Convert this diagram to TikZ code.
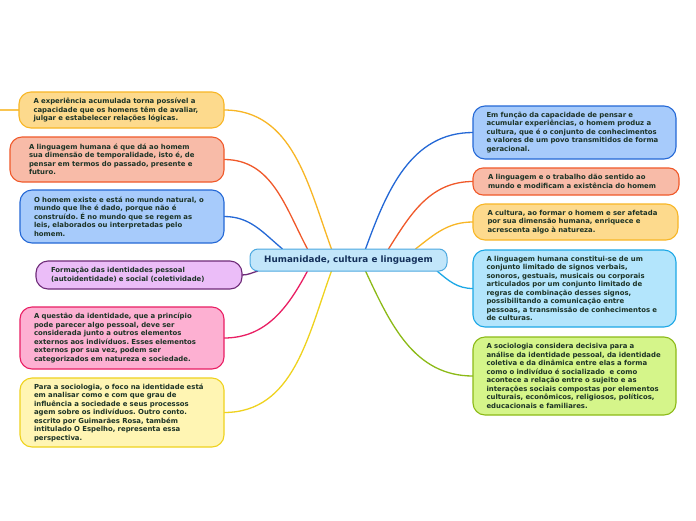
\documentclass[tikz,border=0pt]{standalone}
\usepackage{fontspec}
\setmainfont{DejaVu Sans}
\frenchspacing
\usetikzlibrary{positioning,backgrounds}

\definecolor{inktext}{HTML}{1C3326}
\definecolor{inkhub}{HTML}{14305A}
\definecolor{hubfill}{HTML}{C2E6FA}
\definecolor{hubline}{HTML}{4DA9E0}
\definecolor{orafill}{HTML}{FDDA8D}
\definecolor{oraline}{HTML}{F8B625}
\definecolor{salfill}{HTML}{F8BBA8}
\definecolor{salline}{HTML}{F0592A}
\definecolor{blufill}{HTML}{A7CBFB}
\definecolor{bluline}{HTML}{2468D6}
\definecolor{purfill}{HTML}{EBBDF8}
\definecolor{purline}{HTML}{6E2A78}
\definecolor{pinfill}{HTML}{FDB0D2}
\definecolor{pinline}{HTML}{E91E63}
\definecolor{yelfill}{HTML}{FFF5B3}
\definecolor{yelline}{HTML}{EFD21E}
\definecolor{skyfill}{HTML}{B3E5FC}
\definecolor{skyline}{HTML}{1DA8E6}
\definecolor{grnfill}{HTML}{D5F58A}
\definecolor{grnline}{HTML}{8CBA17}

\begin{document}
\begin{tikzpicture}[
        x=1pt, y=-1pt,
        hub/.style={rectangle, rounded corners=8pt, minimum width=197pt, minimum height=22pt, outer sep=0pt, draw=hubline, fill=hubfill, line width=1pt, text=inkhub, font=\fontsize{8.8}{10}\selectfont\bfseries},
        idea/.style={rectangle, rounded corners=12pt, inner xsep=0pt, inner ysep=2pt, outer sep=0pt, text width=176pt, align=left, line width=1.1pt, text=inktext, font=\fontsize{6.9}{8.5}\selectfont\bfseries},
        orabox/.style={idea, fill=orafill, draw=oraline},
        salbox/.style={idea, fill=salfill, draw=salline},
        blubox/.style={idea, fill=blufill, draw=bluline},
        purbox/.style={idea, fill=purfill, draw=purline},
        pinbox/.style={idea, fill=pinfill, draw=pinline},
        yelbox/.style={idea, fill=yelfill, draw=yelline},
        skybox/.style={idea, fill=skyfill, draw=skyline},
        grnbox/.style={idea, fill=grnfill, draw=grnline},
        link/.style={line width=1.3pt}
    ]
        \useasboundingbox (0,0) rectangle (696,520);

        \node (hub) [hub] at (348.5,260) {Humanidade, cultura e linguagem};

        % left side
        \node (l1) [orabox, minimum width=205pt, minimum height=36pt, anchor=north east] at (224,92) {A experiência acumulada torna possível a\\capacidade que os homens têm de avaliar,\\julgar e estabelecer relações lógicas.};
        \node (l2) [salbox, minimum width=214pt, minimum height=45pt, below=9pt of l1.south east, anchor=north east] {A linguagem humana é que dá ao homem\\sua dimensão de temporalidade, isto é, de\\pensar em termos do passado, presente e\\futuro.};
        \node (l3) [blubox, minimum width=204pt, minimum height=53pt, below=8pt of l2.south east, anchor=north east] {O homem existe e está no mundo natural, o\\mundo que lhe é dado, porque não é\\construído. É no mundo que se regem as\\leis, elaborados ou interpretadas pelo\\homem.};
        \node (l4) [purbox, minimum width=206pt, minimum height=28pt, below=18pt of l3.south east, anchor=north east, xshift=18pt] {Formação das identidades pessoal\\(autoidentidade) e social (coletividade)};
        \node (l5) [pinbox, minimum width=204pt, minimum height=62pt, below=18pt of l4.south east, anchor=north east, xshift=-18pt] {A questão da identidade, que a princípio\\pode parecer algo pessoal, deve ser\\considerada junto a outros elementos\\externos aos indivíduos. Esses elementos\\externos por sua vez, podem ser\\categorizados em natureza e sociedade.};
        \node (l6) [yelbox, minimum width=204pt, minimum height=69pt, below=9pt of l5.south east, anchor=north east] {Para a sociologia, o foco na identidade está\\em analisar como e com que grau de\\influência a sociedade e seus processos\\agem sobre os indivíduos. Outro conto.\\escrito por Guimarães Rosa, também\\intitulado O Espelho, representa essa\\perspectiva.};

        % right side
        \node (r1) [blubox, minimum width=203pt, minimum height=53pt, anchor=north west] at (473,106) {Em função da capacidade de pensar e\\acumular experiências, o homem produz a\\cultura, que é o conjunto de conhecimentos\\e valores de um povo transmitidos de forma\\geracional.};
        \node (r2) [salbox, rounded corners=10pt, minimum width=206pt, minimum height=27pt, below=9pt of r1.south west, anchor=north west] {A linguagem e o trabalho dão sentido ao\\mundo e modificam a existência do homem};
        \node (r3) [orabox, minimum width=205pt, minimum height=36pt, below=9pt of r2.south west, anchor=north west] {A cultura, ao formar o homem e ser afetada\\por sua dimensão humana, enriquece e\\acrescenta algo à natureza.};
        \node (r4) [skybox, minimum width=203pt, minimum height=77pt, below=10pt of r3.south west, anchor=north west] {A linguagem humana constitui-se de um\\conjunto limitado de signos verbais,\\sonoros, gestuais, musicais ou corporais\\articulados por um conjunto limitado de\\regras de combinação desses signos,\\possibilitando a comunicação entre\\pessoas, a transmissão de conhecimentos e\\de culturas.};
        \node (r5) [grnbox, minimum width=203pt, minimum height=78pt, below=10pt of r4.south west, anchor=north west] {A sociologia considera decisiva para a\\análise da identidade pessoal, da identidade\\coletiva e da dinâmica entre elas a forma\\como o indivíduo é socializado\ \ e como\\acontece a relação entre o sujeito e as\\interações sociais compostas por elementos\\culturais, econômicos, religiosos, políticos,\\educacionais e familiares.};

        \coordinate (stub) at (0,110);

        \begin{scope}[on background layer]
            \fill [white] (0,0) rectangle (696,520);
            \draw [link, draw=oraline!80] (stub) -- (l1.west);
            \draw [link, draw=oraline] ([xshift=-17pt]hub.north) to[out=110, in=0] (l1.east);
            \draw [link, draw=salline] ([xshift=-41pt]hub.north) to[out=118, in=0] (l2.east);
            \draw [link, draw=bluline] ([xshift=-66pt]hub.north) to[out=140, in=0] (l3.east);
            \draw [link, draw=purline] ([xshift=8pt]hub.south west) to[out=195, in=0] (l4.east);
            \draw [link, draw=pinline] ([xshift=-41pt]hub.south) to[out=-118, in=0] (l5.east);
            \draw [link, draw=yelline] ([xshift=-17pt]hub.south) to[out=-110, in=0] (l6.east);
            \draw [link, draw=bluline] ([xshift=17pt]hub.north) to[out=70, in=180] (r1.west);
            \draw [link, draw=salline] ([xshift=40pt]hub.north) to[out=58, in=180] (r2.west);
            \draw [link, draw=oraline] ([xshift=67pt]hub.north) to[out=38, in=180] (r3.west);
            \draw [link, draw=skyline] ([xshift=-10pt]hub.south east) to[out=-40, in=180] (r4.west);
            \draw [link, draw=grnline] ([xshift=17pt]hub.south) to[out=-65, in=180] (r5.west);
        \end{scope}
    \end{tikzpicture}
\end{document}
